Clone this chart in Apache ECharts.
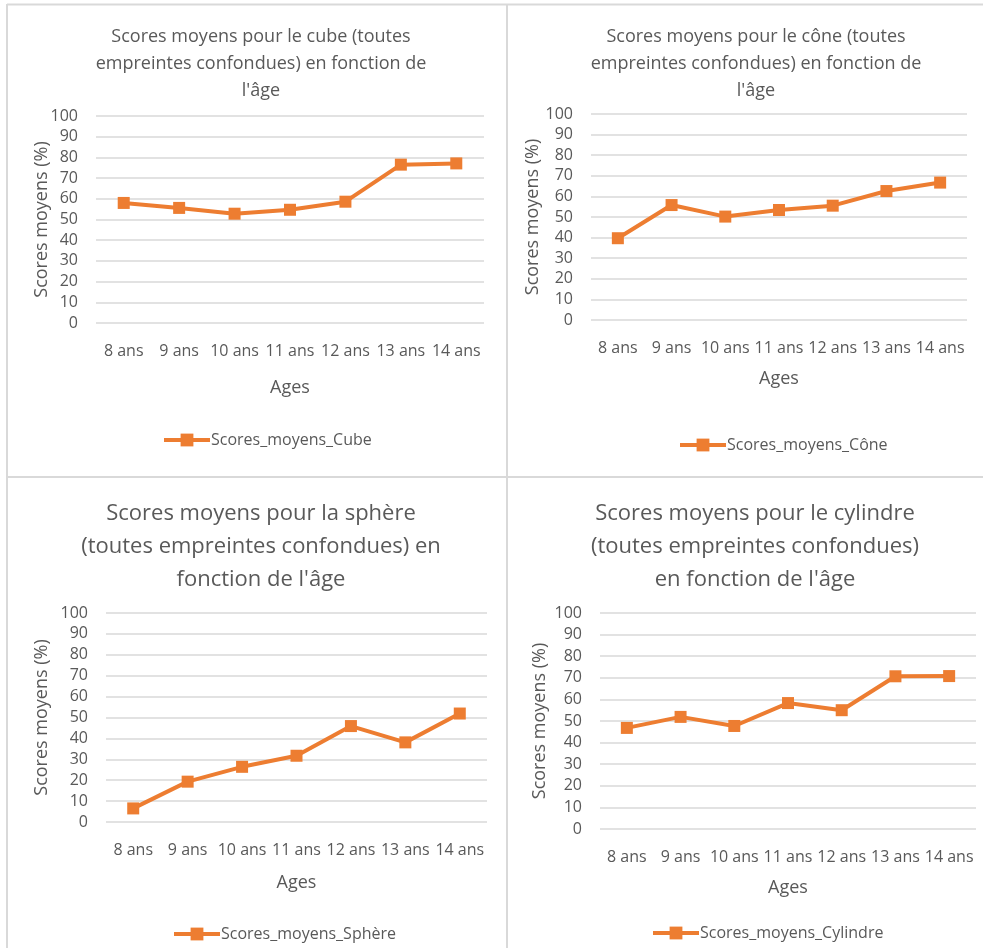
<!DOCTYPE html>
<html>
<head>
<meta charset="utf-8">
<script src="https://cdn.jsdelivr.net/npm/echarts@6/dist/echarts.min.js"></script>
<style>html,body{margin:0;padding:0;background:#fff}#c{width:983px;height:948px}</style>
</head>
<body>
<div id="c"></div>
<script>
const categories = ['8 ans', '9 ans', '10 ans', '11 ans', '12 ans', '13 ans', '14 ans'];
const yTicks = [0, 10, 20, 30, 40, 50, 60, 70, 80, 90, 100];
const cubeScores = [58.0, 55.6, 52.8, 54.7, 58.6, 76.5, 77.1];
const coneScores = [39.7, 55.8, 50.2, 53.4, 55.5, 62.6, 66.7];
const sphereScores = [6.5, 19.3, 26.4, 31.7, 45.9, 38.1, 51.9];
const cylinderScores = [46.8, 51.9, 47.7, 58.3, 55.0, 70.7, 70.8];
const seriesNames = ['Scores_moyens_Cube', 'Scores_moyens_Cône', 'Scores_moyens_Sphère', 'Scores_moyens_Cylindre'];
const titles = [
  "Scores moyens pour le cube (toutes\nempreintes confondues) en fonction de\nl'âge",
  "Scores moyens pour le cône (toutes\nempreintes confondues) en fonction de\nl'âge",
  "Scores moyens pour la sphère\n(toutes empreintes confondues) en\nfonction de l'âge",
  "Scores moyens pour le cylindre\n(toutes empreintes confondues)\nen fonction de l'âge"
];
const xAxisName = 'Ages';
const yAxisName = 'Scores moyens (%)';
const allData = [cubeScores, coneScores, sphereScores, cylinderScores];

const FONT = 'Open Sans';
const TXT = '#595959';
const ORANGE = '#ED7D31';
const GRIDC = '#d9d9d9';

// layout per panel
const L = [
  {grid:{left:96, top:116, width:388, height:207}, titleX:256, titleTop:18, tSize:18, tLH:27, yGap:45, xNameGap:56, legLeft:157, legTop:427},
  {grid:{left:591, top:114, width:376, height:206}, titleX:751, titleTop:18, tSize:18, tLH:27, yGap:49, xNameGap:50, legLeft:673, legTop:432},
  {grid:{left:106, top:613, width:381, height:209}, titleX:256, titleTop:492, tSize:22, tLH:33, yGap:55, xNameGap:52, legLeft:167, legTop:921},
  {grid:{left:600, top:613, width:376, height:216}, titleX:750, titleTop:492, tSize:22, tLH:33, yGap:51, xNameGap:50, legLeft:646, legTop:920}
];

const option = {
  animation: false,
  backgroundColor: '#fff',
  title: L.map((p, i) => ({
    text: titles[i], left: p.titleX, top: p.titleTop, textAlign: 'center',
    textStyle: {fontFamily: FONT, fontSize: p.tSize, fontWeight: 'normal', color: TXT, lineHeight: p.tLH}
  })),
  legend: L.map((p, i) => ({
    data: [seriesNames[i]], left: p.legLeft, top: p.legTop,
    itemWidth: 46, itemHeight: 16, itemGap: 0,
    lineStyle: {width: 4},
    textStyle: {fontFamily: FONT, fontSize: 16, color: TXT, padding: [0,0,0,-4]}
  })),
  grid: L.map(p => Object.assign({containLabel: false}, p.grid)),
  xAxis: L.map((p, i) => ({
    type: 'category', gridIndex: i, data: categories, boundaryGap: true,
    name: xAxisName, nameLocation: 'middle', nameGap: p.xNameGap, nameMoveOverlap: false,
    nameTextStyle: {fontFamily: FONT, fontSize: 18, color: TXT},
    axisLine: {show: false}, axisTick: {show: false},
    axisLabel: {interval: 0, margin: 20, fontFamily: FONT, fontSize: 16, color: TXT}
  })),
  yAxis: L.map((p, i) => ({
    type: 'value', gridIndex: i, min: yTicks[0], max: yTicks[yTicks.length-1], interval: yTicks[1]-yTicks[0],
    name: yAxisName, nameLocation: 'middle', nameGap: p.yGap, nameRotate: 90, nameMoveOverlap: false,
    nameTextStyle: {fontFamily: FONT, fontSize: 18, color: TXT},
    axisLine: {show: false}, axisTick: {show: false},
    axisLabel: {margin: 18, fontFamily: FONT, fontSize: 16, color: TXT},
    splitLine: {show: true, lineStyle: {color: GRIDC, width: 1.5}}
  })),
  series: allData.map((d, i) => ({
    type: 'line', name: seriesNames[i], xAxisIndex: i, yAxisIndex: i, data: d,
    symbol: 'rect', symbolSize: 12, showSymbol: true,
    lineStyle: {color: ORANGE, width: 4},
    itemStyle: {color: ORANGE, borderWidth: 0}
  })),
  graphic: [
    {type:'line', shape:{x1:7, y1:4.5, x2:983, y2:4.5}, style:{stroke:GRIDC, lineWidth:2}},
    {type:'line', shape:{x1:7, y1:4, x2:7, y2:948}, style:{stroke:GRIDC, lineWidth:2}},
    {type:'line', shape:{x1:507, y1:4, x2:507, y2:948}, style:{stroke:GRIDC, lineWidth:2}},
    {type:'line', shape:{x1:7, y1:477, x2:983, y2:477}, style:{stroke:GRIDC, lineWidth:2}}
  ]
};
const chart = echarts.init(document.getElementById('c'), null, {renderer: 'canvas'});
chart.setOption(option);
</script>
</body>
</html>
